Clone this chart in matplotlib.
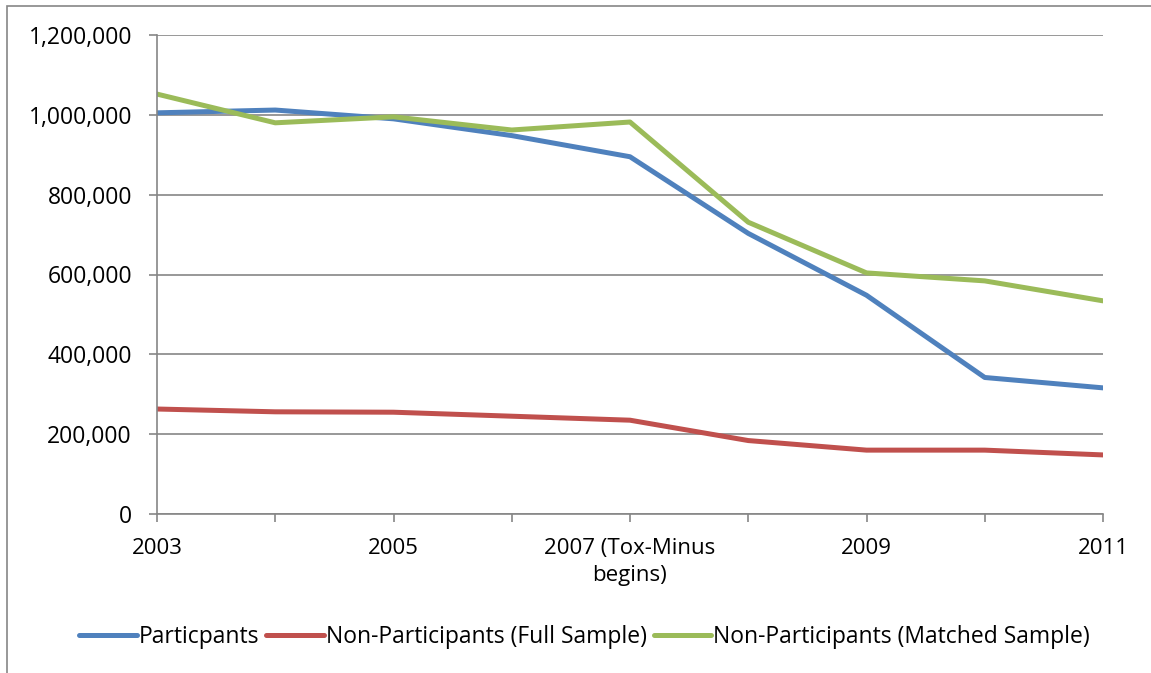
import matplotlib
matplotlib.use("Agg")
import matplotlib.pyplot as plt
from matplotlib.patches import Rectangle
from matplotlib.ticker import FuncFormatter, MultipleLocator

# ── Data ─────────────────────────────────────────────
years = [2003, 2004, 2005, 2006, 2007, 2008, 2009, 2010, 2011]
tick_years = [2003, 2005, 2007, 2009, 2011]
tick_labels = ["2003", "2005", "2007 (Tox-Minus\nbegins)", "2009", "2011"]

participants = [1005000, 1012000, 990000, 948000, 895000, 703000, 548000, 342000, 316000]
non_part_full = [263000, 256000, 255000, 245000, 235000, 184000, 160000, 160000, 148000]
non_part_matched = [1052000, 980000, 995000, 962000, 982000, 731000, 604000, 584000, 534000]

series = [
    ("Particpants", participants, "#4F81BD"),
    ("Non-Participants (Full Sample)", non_part_full, "#C0504D"),
    ("Non-Participants (Matched Sample)", non_part_matched, "#9BBB59"),
]

plt.rcParams["font.family"] = ["Open Sans", "DejaVu Sans"]
GRID = "#868686"

fig = plt.figure(figsize=(11.51, 6.73), dpi=100)
ax = fig.add_axes([157 / 1151, 1 - 514 / 673, (1103 - 157) / 1151, (514 - 35) / 673])

for label, vals, color in series:
    ax.plot(years, vals, color=color, lw=3.6, label=label,
            solid_capstyle="round", solid_joinstyle="round")

ax.set_xlim(2003, 2011)
ax.set_ylim(0, 1200000)
ax.yaxis.set_major_locator(MultipleLocator(200000))
ax.yaxis.set_major_formatter(FuncFormatter(lambda v, p: f"{int(v):,}"))
ax.grid(axis="y", color=GRID, lw=1.2)
ax.set_axisbelow(True)

ax.set_xticks(years, minor=True)
ax.set_xticks(tick_years)
ax.set_xticklabels(tick_labels, fontsize=16, linespacing=1.4)
ax.tick_params(axis="x", which="both", length=6, color=GRID, width=1.2, pad=11)
ax.tick_params(axis="y", length=6, color=GRID, width=1.2, labelsize=16.5, pad=12)

for side in ["top", "right"]:
    ax.spines[side].set_visible(False)
for side in ["left", "bottom"]:
    ax.spines[side].set_color(GRID)
    ax.spines[side].set_linewidth(1.2)

fig.legend(loc="center", bbox_to_anchor=(0.508, 1 - 637 / 673), ncol=3,
           frameon=False, fontsize=16.5, handlelength=2.5, handletextpad=0.1,
           columnspacing=0.3)

# outer chart border (left and top edges visible)
fig.patches.append(Rectangle((7 / 1151, -0.1), 1.2, 1 - 6 / 673 + 0.1,
                             transform=fig.transFigure, fill=False,
                             edgecolor=GRID, lw=1.2))

fig.savefig("out.png", dpi=100)
